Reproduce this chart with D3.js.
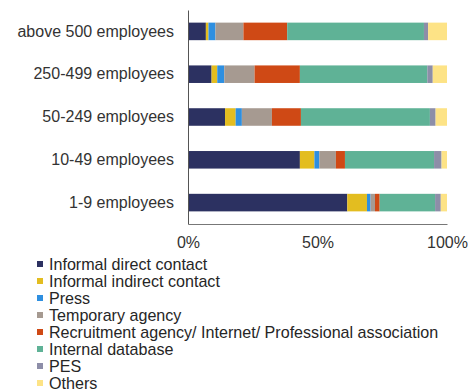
<!DOCTYPE html>
<html>
<head>
<meta charset="utf-8">
<script src="https://cdn.jsdelivr.net/npm/d3@7"></script>
<style>
  html, body { margin: 0; padding: 0; background: #fff; }
  svg { display: block; font-family: "Liberation Sans", Arial, sans-serif; }
</style>
</head>
<body>
<svg id="chart" width="468" height="389"></svg>
<script>
// Company size classes, top to bottom
const categories = ["above 500 employees", "250-499 employees", "50-249 employees", "10-49 employees", "1-9 employees"];

// Share of recruitment channel (%) per size class, same order as categories
const informalDirect   = [6.9, 9.1, 14.3, 43.2, 61.5];
const informalIndirect = [1.0, 2.2, 4.1, 5.6, 7.6];
const press            = [2.7, 2.7, 2.4, 1.9, 1.4];
const temporaryAgency  = [10.8, 11.7, 11.6, 6.4, 1.7];
const recruitment      = [16.9, 17.5, 11.2, 3.5, 1.8];
const internalDatabase = [52.8, 49.2, 49.8, 34.4, 21.4];
const pes              = [1.6, 2.1, 2.2, 2.9, 2.2];
const others           = [7.3, 5.5, 4.4, 2.1, 2.4];

const seriesNames = ["Informal direct contact", "Informal indirect contact", "Press", "Temporary agency",
  "Recruitment agency/ Internet/ Professional association", "Internal database", "PES", "Others"];
const seriesValues = [informalDirect, informalIndirect, press, temporaryAgency, recruitment, internalDatabase, pes, others];
const colours = ["#2c3161", "#e3bd20", "#2e8fe0", "#a69a91", "#cf4915", "#5fb296", "#8d8ea8", "#fde386"];

const xTicks = [0, 50, 100];

// Rows for d3.stack
const rows = categories.map((c, i) => {
  const r = { category: c };
  seriesNames.forEach((s, j) => { r[s] = seriesValues[j][i]; });
  return r;
});
const stacked = d3.stack().keys(seriesNames)(rows);

const svg = d3.select("#chart");
const x = d3.scaleLinear().domain([0, 100]).range([188, 447]);
const y = d3.scaleBand().domain(categories).range([10, 224]).paddingInner(0.59).paddingOuter(0.295);
const colour = d3.scaleOrdinal().domain(seriesNames).range(colours);

// Stacked bars
svg.append("g").selectAll("g").data(stacked).join("g")
  .attr("fill", d => colour(d.key))
  .selectAll("rect").data(d => d).join("rect")
  .attr("x", d => x(d[0]))
  .attr("y", d => y(d.data.category))
  .attr("width", d => x(d[1]) - x(d[0]))
  .attr("height", y.bandwidth());

// Category axis
const yAxis = svg.append("g").attr("transform", `translate(${x(0)},0)`)
  .call(d3.axisLeft(y).tickSize(0).tickSizeOuter(0).tickPadding(14));
yAxis.select(".domain").attr("stroke", "#555").attr("stroke-width", 1);
yAxis.selectAll("text").attr("font-size", 16).attr("fill", "#333").attr("font-family", "Liberation Sans, Arial, sans-serif");

// Percentage axis
const xAxis = svg.append("g").attr("transform", `translate(0,224)`)
  .call(d3.axisBottom(x).tickValues(xTicks).tickFormat(d => d + "%").tickSize(0).tickSizeOuter(0).tickPadding(13));
xAxis.select(".domain").attr("stroke", "#777").attr("stroke-width", 1);
xAxis.selectAll("text").attr("font-size", 16).attr("fill", "#333").attr("font-family", "Liberation Sans, Arial, sans-serif");

// Legend
const legend = svg.append("g").selectAll("g").data(seriesNames).join("g")
  .attr("transform", (d, i) => `translate(37,${264 + i * 17})`);
legend.append("rect").attr("x", 0).attr("y", -3).attr("width", 6).attr("height", 6)
  .attr("fill", d => colour(d));
legend.append("text").attr("x", 12).attr("y", 0).attr("dy", "0.35em")
  .attr("font-size", 16.1).attr("fill", "#262626").text(d => d);
</script>
</body>
</html>
